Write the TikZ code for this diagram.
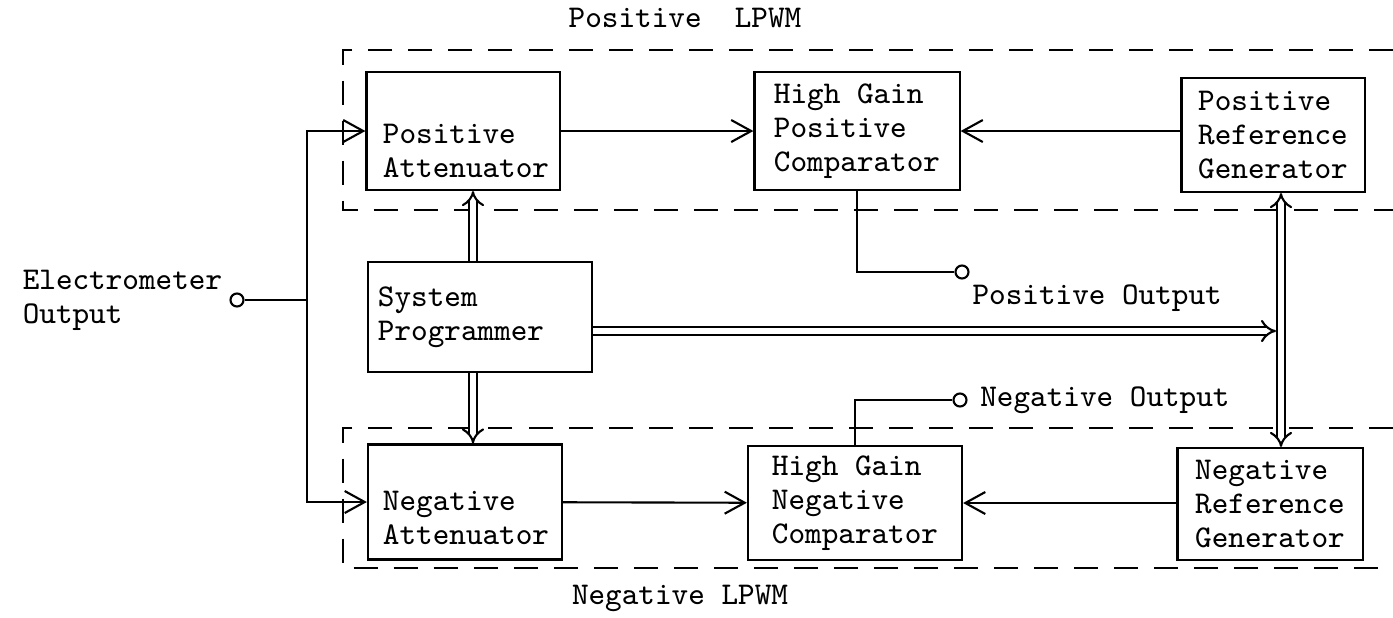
\documentclass[tikz,border=0pt]{standalone}
\usepackage{fontspec}
\usetikzlibrary{arrows.meta,positioning}

\begin{document}
\begin{tikzpicture}[x=.01cm,y=-.01cm,line width=.6pt,font=\ttfamily\fontsize{9}{9.6}\selectfont,
blk/.style={draw,align=left,inner sep=1mm},
arr/.style={-{Straight Barb[length=2mm,width=2.2mm]}},
dbl/.style={double,double distance=.55mm,-{Implies[length=2mm,width=3mm]}},
term/.style={draw,circle,fill=white,inner sep=0pt,minimum size=1.3mm},
lpwm/.style={dash pattern=on 2.4mm off 1.6mm}]
\useasboundingbox (0,0) rectangle (1393,617);
\draw[lpwm](1393,50)-|(343,210)--(1393,210);
\draw[lpwm](1393,428)-|(343,568)--(1393,568);
\node(pl) at (685,18){Positive\ \ LPWM};\node(nl) at (680,598){Negative LPWM};
\node[blk,minimum width=1.93cm,minimum height=1.18cm](pa) at (463,131){};
\node[align=left](pat) at (466,151){Positive\\Attenuator};
\node[blk,minimum width=2.05cm,minimum height=1.18cm](pc) at (857,131){High Gain\\Positive\\Comparator};
\node[blk,minimum width=1.83cm,minimum height=1.14cm](pr) at (1273,135){Positive\\Reference\\Generator};
\node[blk,minimum width=2.2cm,minimum height=1.1cm,text width=2.04cm](sp) at (480,317){System\\Programmer};
\node[blk,minimum width=1.94cm,minimum height=1.15cm](na) at (465,502){};
\node[align=left](nat) at (466,518){Negative\\Attenuator};
\node[blk,minimum width=2.14cm,minimum height=1.13cm](nc) at (855,503){High Gain\\Negative\\Comparator};
\node[blk,minimum width=1.85cm,minimum height=1.12cm](nr) at (1270,504){Negative\\Reference\\Generator};
\node[align=left,anchor=west](el) at (10,300){Electrometer\\Output};
\node[term](eo) at (237,300){};\coordinate(j) at (307,300);
\node[term](po) at (962,272){};\node[anchor=north west,inner sep=1pt](pt) at (968,280){Positive Output};
\node[term](no) at (960,400){};\node[right=0pt of no](nt){Negative Output};
\coordinate(ux) at (473,0);\coordinate(bus) at (1281,0);\coordinate(busl) at (1276,0);\coordinate(hy) at (0,331);
\draw(eo)--(j);
\draw[arr](j)|-(pa.west);
\draw[arr](j)|-(na.west);
\draw[arr](pa)--(pc);
\draw[arr](pr.west|-pc)--(pc.east);
\draw[arr](na)--(nc);
\draw[arr](nr.west|-nc)--(nc.east);
\draw(pc.south)|-(po.west);
\draw(nc.north)|-(no.west);
\draw[dbl](sp.north-|ux)--(pa.south-|ux);
\draw[dbl](sp.south-|ux)--(na.north-|ux);
\draw[dbl,{Implies[length=2mm,width=3mm]}-{Implies[length=2mm,width=3mm]}](pr.south-|bus)--(nr.north-|bus);
\draw[dbl](sp.east|-hy)--(busl|-hy);
\end{tikzpicture}
\end{document}
